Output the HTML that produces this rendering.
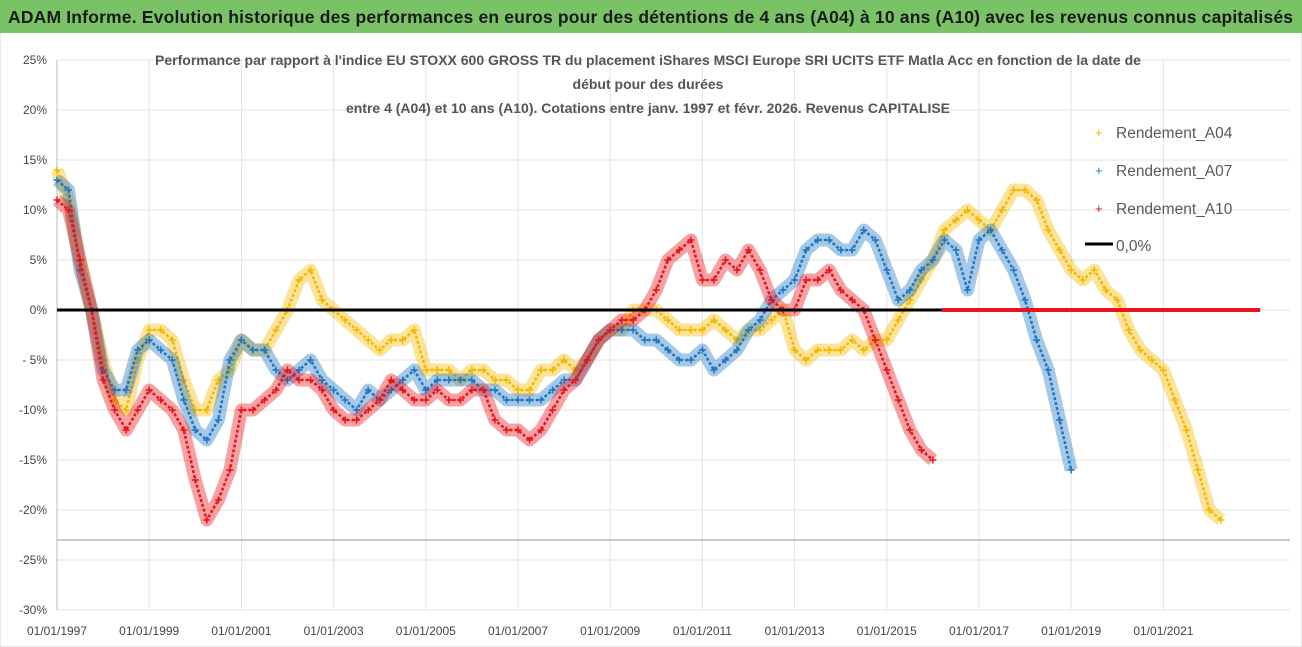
<!DOCTYPE html>
<html><head><meta charset="utf-8"><style>
body{margin:0;background:#fff;font-family:"Liberation Sans",sans-serif;}
#wrap{position:relative;width:1302px;height:647px;overflow:hidden;}
</style></head><body>
<div id="wrap">
<svg id="chart" width="1302" height="647" xmlns="http://www.w3.org/2000/svg">
<rect x="0" y="0" width="1302" height="647" fill="#fff" stroke="#d0d0d0"/>
<rect x="0" y="0" width="1302" height="33" fill="#79c265"/>
<text x="8" y="23" font-size="17.5" font-weight="bold" fill="#1a1a1a" textLength="1285">ADAM Informe. Evolution historique des performances en euros pour des détentions de 4 ans (A04) à 10 ans (A10) avec les revenus connus capitalisés</text>
<g id="grid"></g>
<g id="series"></g>
<g id="axes"></g>
<g font-size="14" font-weight="bold" fill="#555" text-anchor="middle">
<text x="648" y="65">Performance par rapport à l'indice EU STOXX 600 GROSS TR  du placement iShares MSCI Europe SRI UCITS ETF Matla Acc en fonction de la date de</text>
<text x="648" y="89">début pour des durées</text>
<text x="648" y="113">entre 4 (A04) et 10 ans (A10).  Cotations entre janv. 1997 et févr. 2026. Revenus CAPITALISE</text>
</g>
<g font-size="15.5" fill="#595959">
<g><text x="1095" y="137" fill="#f2b705" font-size="13">+</text><text x="1116" y="138">Rendement_A04</text></g>
<g><text x="1095" y="175" fill="#2a7bc0" font-size="13">+</text><text x="1116" y="176">Rendement_A07</text></g>
<g><text x="1095" y="213" fill="#e8141c" font-size="13">+</text><text x="1116" y="214">Rendement_A10</text></g>
<g><line x1="1085" y1="244" x2="1113" y2="244" stroke="#000" stroke-width="3"/><text x="1116" y="251">0,0%</text></g>
</g>
</svg>
</div>
<script>
const yTicks=[25,20,15,10,5,0,-5,-10,-15,-20,-25,-30];
const yTickLabels=["25%","20%","15%","10%","5%","0%","- 5%","-10%","-15%","-20%","-25%","-30%"];
const xTickYears=[1997,1999,2001,2003,2005,2007,2009,2011,2013,2015,2017,2019,2021];
const xTickLabels=["01/01/1997","01/01/1999","01/01/2001","01/01/2003","01/01/2005","01/01/2007","01/01/2009","01/01/2011","01/01/2013","01/01/2015","01/01/2017","01/01/2019","01/01/2021"];
const startYear=1997, stepYears=0.25;
const a04=[14,11,5,0,-5,-9,-10,-5,-2,-2,-3,-7,-10,-10,-7,-6,-3,-4,-4,-2,0,3,4,1,0,-1,-2,-3,-4,-3,-3,-2,-6,-6,-6,-7,-6,-6,-7,-7,-8,-8,-6,-6,-5,-6,-5,-3,-2,-2,0,0,0,-1,-2,-2,-2,-1,-2,-3,-2,-2,-1,0,-4,-5,-4,-4,-4,-3,-4,-3,-3,-1,1,3,5,8,9,10,9,8,10,12,12,11,8,6,4,3,4,2,1,-2,-4,-5,-6,-9,-12,-16,-20,-21];
const a07=[13,12,4,0,-6,-8,-8,-4,-3,-4,-5,-9,-12,-13,-11,-5,-3,-4,-4,-6,-7,-6,-5,-7,-8,-9,-10,-8,-9,-8,-7,-6,-8,-7,-7,-7,-7,-8,-8,-9,-9,-9,-9,-8,-7,-7,-5,-3,-2,-2,-2,-3,-3,-4,-5,-5,-4,-6,-5,-4,-2,-1,1,2,3,6,7,7,6,6,8,7,4,1,2,4,5,7,6,2,7,8,6,4,1,-3,-6,-11,-16];
const a10=[11,10,5,0,-7,-10,-12,-10,-8,-9,-10,-12,-17,-21,-19,-16,-10,-10,-9,-8,-6,-7,-7,-8,-10,-11,-11,-10,-9,-7,-8,-9,-9,-8,-9,-9,-8,-8,-11,-12,-12,-13,-12,-10,-8,-7,-5,-3,-2,-1,-1,0,2,5,6,7,3,3,5,4,6,4,1,0,0,3,3,4,2,1,0,-3,-6,-9,-12,-14,-15];
const a10ZeroFrom=2016.2, zeroEnd=2023.1;

const NS="http://www.w3.org/2000/svg";
const X0=57, PXY=46.1, Y0=310, PXV=10;
const xs=y=>X0+(y-startYear)*PXY;
const ys=v=>Y0-v*PXV;
function mk(tag,attrs,parent){const e=document.createElementNS(NS,tag);for(const k in attrs)e.setAttribute(k,attrs[k]);parent.appendChild(e);return e;}
const grid=document.getElementById('grid'),axes=document.getElementById('axes'),ser=document.getElementById('series');
yTicks.forEach((t,i)=>{
  const l=mk('line',{x1:X0,x2:1290,y1:ys(t),y2:ys(t),stroke:'#e3e3e3','stroke-width':1},grid);
  
  
  const tx=mk('text',{x:47,y:ys(t)+4,'font-size':12,fill:'#444','text-anchor':'end'},axes);
  tx.textContent=yTickLabels[i];
  
  
});
xTickYears.forEach((yr,i)=>{
  const l=mk('line',{x1:xs(yr),x2:xs(yr),y1:ys(25),y2:ys(-30),stroke:'#e3e3e3','stroke-width':1},grid);
  
  
  const tx=mk('text',{x:xs(yr),y:635,'font-size':12,fill:'#444','text-anchor':'middle'},axes);
  tx.textContent=xTickLabels[i];
  
  
});
const lowLine=mk('line',{x1:X0,x2:1290,y1:ys(-23),y2:ys(-23),stroke:'#999','stroke-width':1},grid);


const yAx=mk('line',{x1:X0,x2:X0,y1:ys(25),y2:ys(-30),stroke:'#bbb','stroke-width':1},grid);



function drawSeries(vals,color,name){
  const g=mk('g',{},ser);
  
  
  const pts=vals.map((v,i)=>xs(startYear+i*stepYears).toFixed(1)+','+ys(v).toFixed(1)).join(' ');
  mk('polyline',{points:pts,fill:'none',stroke:color,'stroke-width':13,'stroke-opacity':0.4,'stroke-linejoin':'round'},g);
  mk('polyline',{points:pts,fill:'none',stroke:color,'stroke-width':2.5,'stroke-dasharray':'3 2'},g);
  vals.forEach((v,i)=>{
    const x=xs(startYear+i*stepYears),y=ys(v);
    const p=mk('path',{d:`M${x-3.5},${y}h7M${x},${y-3.5}v7`,stroke:color,'stroke-width':1.5},g);
    
    
  });
}
drawSeries(a04,'#f4b800','series-a04');
drawSeries(a07,'#1f77c4','series-a07');
drawSeries(a10,'#e8141c','series-a10');
const z=mk('line',{x1:X0,x2:xs(a10ZeroFrom),y1:ys(0),y2:ys(0),stroke:'#000','stroke-width':3},ser);


const zr=mk('line',{x1:xs(a10ZeroFrom),x2:xs(zeroEnd),y1:ys(0),y2:ys(0),stroke:'#e8141c','stroke-width':4},ser);


</script>
</body></html>
